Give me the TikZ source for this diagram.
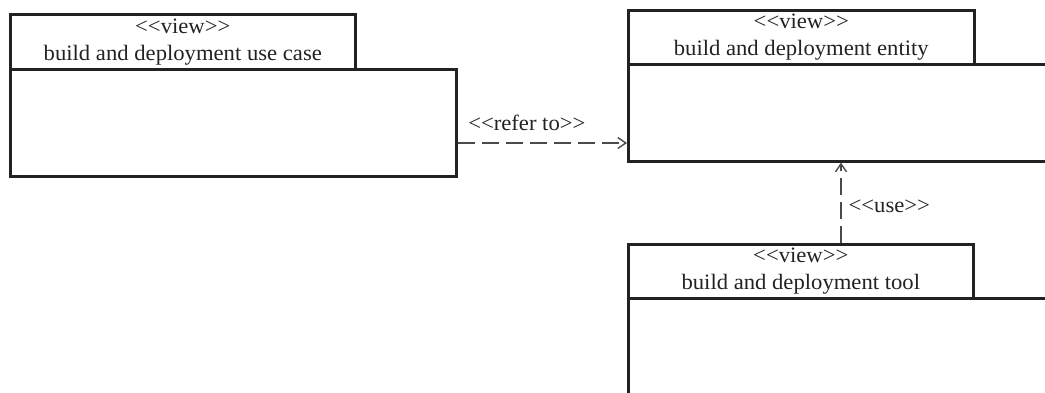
\documentclass[tikz,border=0pt]{standalone}
\usepackage{fontspec}
\setmainfont[FakeStretch=1.03]{Liberation Serif}
\usetikzlibrary{arrows.meta}
\definecolor{ink}{HTML}{222222}
\definecolor{conn}{HTML}{4A4A4A}
\tikzset{
  tabbox/.style={draw=ink, line width=2.6pt, rectangle, anchor=north west, inner sep=0pt,
    align=center, text=ink, font=\fontsize{22}{27}\selectfont},
  bodybox/.style={draw=ink, line width=2.6pt, rectangle, anchor=north west, inner sep=0pt},
  dep/.style={draw=conn, line width=1.3pt, dash pattern=on 17pt off 7pt,
    -{Straight Barb[length=8pt,width=11pt,line width=1.4pt,sharp]}},
  lbl/.style={inner sep=0pt, text=ink, font=\fontsize{22}{27}\selectfont}
}
\begin{document}
\begin{tikzpicture}[x=1pt,y=-1pt]
\clip (0,0) rectangle (1045,392);
\fill[white] (0,0) rectangle (1045,392);
% package 1
\node[bodybox, minimum width=446pt, minimum height=107pt] (b1) at (9,68) {};
\node[tabbox, minimum width=345pt, minimum height=55pt] (t1) at (9,13) {<{}<view>{}>\\build and deployment use case};
% package 2
\node[bodybox, minimum width=450pt, minimum height=97pt] (b2) at (627,63) {};
\node[tabbox, minimum width=346pt, minimum height=54pt] (t2) at (627,9) {<{}<view>{}>\\build and deployment entity};
% package 3
\node[bodybox, minimum width=450pt, minimum height=140pt] (b3) at (627,297) {};
\node[tabbox, minimum width=345pt, minimum height=54pt] (t3) at (627,243) {<{}<view>{}>\\build and deployment tool};
% connectors
\draw[dep] (b1.east |- 0,143) -- node[lbl, pos=0, anchor=base west, xshift=10pt, yshift=13pt] {<{}<refer to>{}>} (b2.west |- 0,143);
\draw[dep] (t3.north -| 841,0) -- node[lbl, pos=0.46, anchor=west, xshift=7pt] {<{}<use>{}>} (b2.south -| 841,0);
\end{tikzpicture}
\end{document}
